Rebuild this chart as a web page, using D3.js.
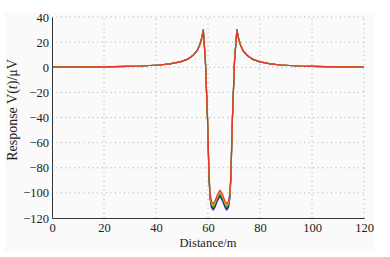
<!DOCTYPE html>
<html>
<head>
<meta charset="utf-8">
<script src="https://cdn.jsdelivr.net/npm/d3@7"></script>
<style>
	body { margin: 0; background: #fff; }
	svg { display: block; }
	svg text { font-family: "Times New Roman", "Liberation Serif", "DejaVu Serif", serif; }
</style>
</head>
<body>
<div id="chart"></div>
<script>
// distance along the profile (m)
var distance = [0, 9, 19, 29, 34, 41.3, 45.3, 49.3, 52.3, 54.3, 55.8, 56.8, 57.5, 58.2,
	59.0, 59.8, 60.4, 60.8, 61.3, 62.0, 62.7, 63.5, 64.6, 65.7, 66.5, 67.2, 67.9, 68.4, 68.8, 69.4, 70.2,
	71.1, 71.8, 72.5, 73.5, 75, 77, 80, 84, 88, 95, 100, 110, 120];

// response V(t) in microvolts, one array per time gate
var seriesRed = [0.1, 0.15, 0.3, 0.7, 1.0, 1.8, 2.7, 4.3, 6.5, 9.5, 13, 17.5, 22, 29,
	5, -40, -85, -100, -106.5, -108.8, -106.5, -102, -97.8, -102, -106.5, -108.8, -106.5, -100, -85, -40, 5,
	29, 22, 17.5, 13, 9.5, 6.5, 4.3, 2.7, 1.8, 1.0, 0.7, 0.3, 0.15];
var seriesYellow = [0.1, 0.15, 0.3, 0.7, 1.0, 1.8, 2.7, 4.3, 6.5, 9.5, 13, 17.6, 22.2, 29.2,
	5, -40, -86, -101.2, -107.8, -110.1, -107.8, -103.3, -99.1, -103.3, -107.8, -110.1, -107.8, -101.2, -86, -40, 5,
	29.2, 22.2, 17.6, 13, 9.5, 6.5, 4.3, 2.7, 1.8, 1.0, 0.7, 0.3, 0.15];
var seriesGreen = [0.1, 0.15, 0.3, 0.7, 1.0, 1.8, 2.7, 4.3, 6.5, 9.5, 13.1, 17.7, 22.4, 29.4,
	5, -40, -87, -102.4, -109.1, -111.4, -109.1, -104.6, -100.4, -104.6, -109.1, -111.4, -109.1, -102.4, -87, -40, 5,
	29.4, 22.4, 17.7, 13.1, 9.5, 6.5, 4.3, 2.7, 1.8, 1.0, 0.7, 0.3, 0.15];
var seriesBlack = [0.1, 0.15, 0.3, 0.7, 1.0, 1.8, 2.7, 4.3, 6.5, 9.6, 13.2, 17.8, 22.6, 29.7,
	5, -40, -88, -103.6, -110.3, -112.6, -110.3, -105.8, -101.6, -105.8, -110.3, -112.6, -110.3, -103.6, -88, -40, 5,
	29.7, 22.6, 17.8, 13.2, 9.6, 6.5, 4.3, 2.7, 1.8, 1.0, 0.7, 0.3, 0.15];
var seriesBlue = [0.1, 0.15, 0.3, 0.7, 1.0, 1.8, 2.7, 4.3, 6.5, 9.6, 13.3, 18, 22.8, 30,
	5, -40, -89, -104.8, -111.5, -113.8, -111.5, -107, -102.8, -107, -111.5, -113.8, -111.5, -104.8, -89, -40, 5,
	30, 22.8, 18, 13.3, 9.6, 6.5, 4.3, 2.7, 1.8, 1.0, 0.7, 0.3, 0.15];

var xTicks = [0, 20, 40, 60, 80, 100, 120];
var yTicks = [-120, -100, -80, -60, -40, -20, 0, 20, 40];

var allSeries = [
	{ values: seriesBlue, color: "#3448c8" },
	{ values: seriesBlack, color: "#2a2a2a" },
	{ values: seriesGreen, color: "#2f9a3a" },
	{ values: seriesYellow, color: "#e0b820" },
	{ values: seriesRed, color: "#e8302e" },
];

var width = 390;
var height = 257;
var margin = { top: 17, right: 26, bottom: 39, left: 52 };

var svg = d3.select("#chart").append("svg")
	.attr("width", width)
	.attr("height", height);

// faint figure background
svg.append("rect")
	.attr("x", 5).attr("y", 12)
	.attr("width", 370).attr("height", 240)
	.attr("fill", "#fafafa");

var x = d3.scaleLinear().domain([0, 120]).range([margin.left, width - margin.right]);
var y = d3.scaleLinear().domain([-120, 40]).range([height - margin.bottom, margin.top]);

// dotted grid
var grid = svg.append("g")
	.attr("stroke", "#9a9a9a")
	.attr("stroke-width", 0.8)
	.attr("stroke-dasharray", "1,3.5");
xTicks.filter((d) => d > 0).forEach((t) => {
	grid.append("line")
		.attr("x1", x(t)).attr("x2", x(t))
		.attr("y1", y(-120)).attr("y2", y(40));
});
yTicks.filter((d) => d > -120).forEach((t) => {
	grid.append("line")
		.attr("x1", x(0)).attr("x2", x(120))
		.attr("y1", y(t)).attr("y2", y(t));
});

// lines
var line = d3.line()
	.x((d, i) => x(distance[i]))
	.y((d) => y(d));
allSeries.forEach((s) => {
	svg.append("path")
		.datum(s.values)
		.attr("d", line)
		.attr("fill", "none")
		.attr("stroke", s.color)
		.attr("stroke-width", 1.2)
		.attr("stroke-linejoin", "round");
});

// axes
var xAxis = svg.append("g")
	.attr("transform", `translate(0,${y(-120)})`)
	.call(d3.axisBottom(x).tickValues(xTicks).tickSize(0).tickPadding(5).tickFormat(d3.format("d")));
var yAxis = svg.append("g")
	.attr("transform", `translate(${x(0)},0)`)
	.call(d3.axisLeft(y).tickValues(yTicks).tickSize(0).tickPadding(3).tickFormat(d3.format("d")));
[xAxis, yAxis].forEach((a) => {
	a.attr("font-family", null).attr("font-size", null);
	a.select(".domain").attr("stroke", "#333").attr("stroke-width", 1);
	a.selectAll("text")
		.style("font-size", "12.5px")
		.attr("fill", "#222");
});

// axis titles
svg.append("text")
	.attr("x", x(60))
	.attr("y", 247)
	.attr("text-anchor", "middle")
	.style("font-size", "12.5px")
	.attr("fill", "#222")
	.text("Distance/m");

var yl = svg.append("text")
	.attr("transform", `translate(17,${y(-34)}) rotate(-90)`)
	.attr("text-anchor", "middle")
	.style("font-size", "14px")
	.attr("fill", "#222");
yl.append("tspan").text("Response V(");
yl.append("tspan").attr("font-style", "italic").text("t");
yl.append("tspan").text(")/μV");
</script>
</body>
</html>
